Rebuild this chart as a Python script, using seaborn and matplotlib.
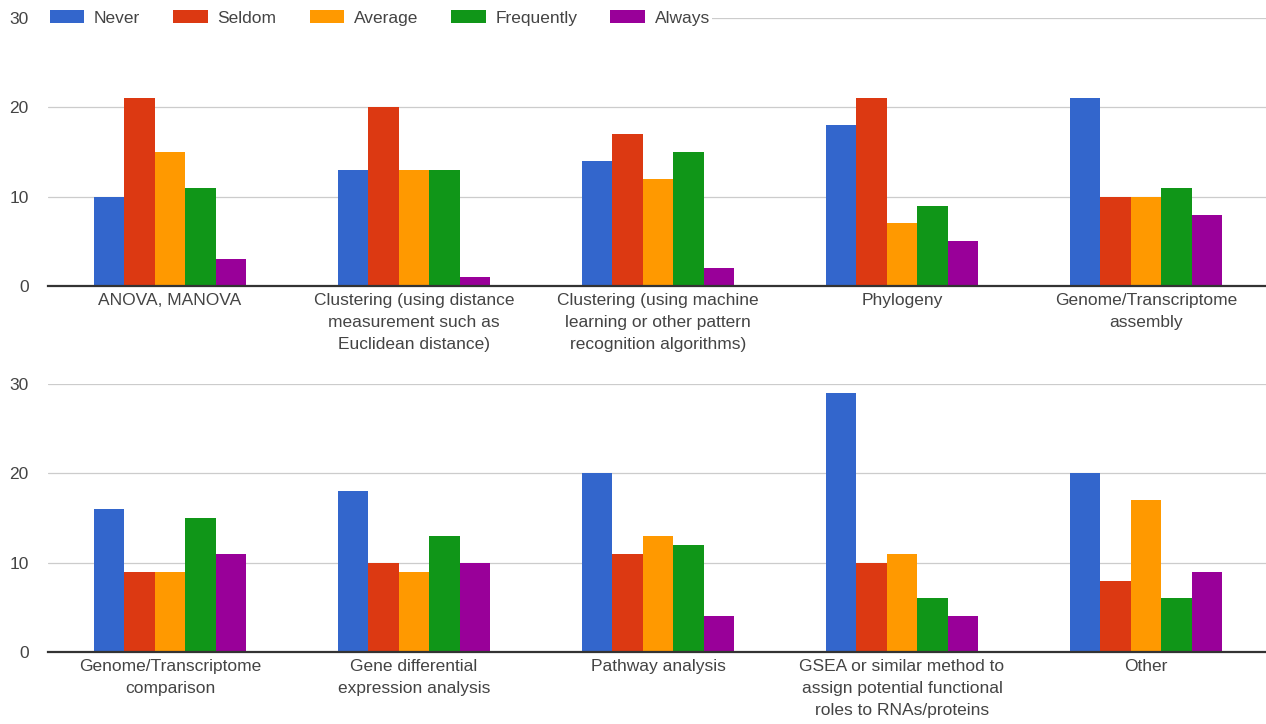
import numpy as np
import pandas as pd
import matplotlib
matplotlib.use("Agg")
import matplotlib.pyplot as plt
import seaborn as sns

sns.set_theme(style="white")
plt.rcParams["font.family"] = ["Liberation Sans", "DejaVu Sans"]

# ---- data ----
levels = ["Never", "Seldom", "Average", "Frequently", "Always"]
colors = ["#3366CC", "#DC3912", "#FF9900", "#109618", "#990099"]

top_methods = [
    "ANOVA, MANOVA",
    "Clustering (using distance\nmeasurement such as\nEuclidean distance)",
    "Clustering (using machine\nlearning or other pattern\nrecognition algorithms)",
    "Phylogeny",
    "Genome/Transcriptome\nassembly",
]
top_never = [10, 13, 14, 18, 21]
top_seldom = [21, 20, 17, 21, 10]
top_average = [15, 13, 12, 7, 10]
top_frequently = [11, 13, 15, 9, 11]
top_always = [3, 1, 2, 5, 8]

bottom_methods = [
    "Genome/Transcriptome\ncomparison",
    "Gene differential\nexpression analysis",
    "Pathway analysis",
    "GSEA or similar method to\nassign potential functional\nroles to RNAs/proteins",
    "Other",
]
bottom_never = [16, 18, 20, 29, 20]
bottom_seldom = [9, 10, 11, 10, 8]
bottom_average = [9, 9, 13, 11, 17]
bottom_frequently = [15, 13, 12, 6, 6]
bottom_always = [11, 10, 4, 4, 9]

yticks = [0, 10, 20, 30]


def to_long(methods, series):
    rows = []
    for lev, vals in zip(levels, series):
        for m, v in zip(methods, vals):
            rows.append({"method": m, "level": lev, "count": v})
    return pd.DataFrame(rows)


df_top = to_long(top_methods, [top_never, top_seldom, top_average, top_frequently, top_always])
df_bottom = to_long(bottom_methods, [bottom_never, bottom_seldom, bottom_average,
                                     bottom_frequently, bottom_always])

TEXT = "#444444"
GRID = "#CCCCCC"
FS = 12.5

fig = plt.figure(figsize=(12.66, 7.24), dpi=100)
ax_top = fig.add_axes([0.0379, 0.6050, 0.9637, 0.3702])
ax_bot = fig.add_axes([0.0379, 0.0994, 0.9637, 0.3702])

for ax, df, methods in [(ax_top, df_top, top_methods), (ax_bot, df_bottom, bottom_methods)]:
    sns.barplot(data=df, x="method", y="count", hue="level",
                order=methods, hue_order=levels, palette=colors,
                width=0.625, linewidth=0, saturation=1,
                legend=(ax is ax_top), ax=ax)
    ax.set_ylim(0, 30)
    ax.set_xlim(-0.5, 4.5)
    ax.set_yticks(yticks)
    ax.set_xlabel("")
    ax.set_ylabel("")
    ax.grid(axis="y", color=GRID, linewidth=0.9)
    ax.set_axisbelow(True)
    for s in ["top", "right", "left"]:
        ax.spines[s].set_visible(False)
    ax.spines["bottom"].set_color("#333333")
    ax.spines["bottom"].set_linewidth(1.6)
    ax.spines["bottom"].set_zorder(3)
    ax.tick_params(axis="both", length=0, labelsize=FS, colors=TEXT)
    ax.tick_params(axis="y", pad=14)
    ax.tick_params(axis="x", pad=5)
    for lab in ax.get_xticklabels():
        lab.set_linespacing(1.57)

handles, labels = ax_top.get_legend_handles_labels()
ax_top.get_legend().remove()
leg = fig.legend(handles, labels, loc="center left",
                 bbox_to_anchor=(48 / 1266, 1 - 18 / 724),
                 ncol=5, frameon=True, fontsize=FS,
                 handlelength=2.0, handleheight=0.7, handletextpad=0.55,
                 columnspacing=1.9, borderpad=0.1, borderaxespad=0)
leg.get_frame().set_facecolor("white")
leg.get_frame().set_edgecolor("none")
leg.get_frame().set_alpha(1)
for t in leg.get_texts():
    t.set_color(TEXT)

fig.savefig("out.png", dpi=100, facecolor="white")
